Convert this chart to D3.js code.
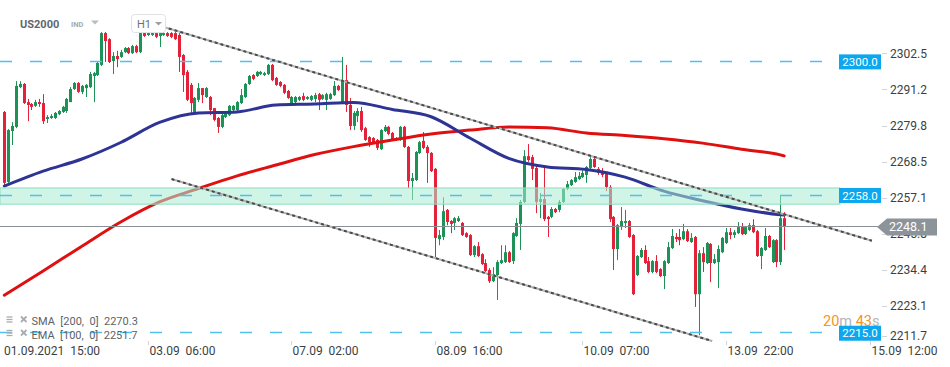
<!DOCTYPE html>
<html><head><meta charset="utf-8">
<script src="https://cdn.jsdelivr.net/npm/d3@7"></script>
<style>
body{margin:0;background:#fff;}
svg{display:block;font-family:Roboto,"Open Sans",sans-serif;}
text{white-space:pre;}
</style></head><body>
<svg id="c" width="950" height="367"></svg>
<script>
// ---- DATA (US2000, H1) ----
const opens = [
2284.1,2262.1,2278.1,2279.4,2291.9,2292.9,2287.2,2286.6,2286.0,2287.2,
2286.9,2281.9,2282.2,2282.2,2283.4,2284.1,2284.4,2287.2,2291.3,2293.2,
2290.4,2291.6,2291.9,2295.4,2295.7,2298.9,2308.9,2307.0,2300.1,2301.7,
2301.4,2302.9,2304.2,2302.6,2304.8,2302.9,2308.9,2308.3,2308.3,2308.9,
2308.0,2308.3,2308.9,2308.9,2308.9,2308.3,2302.0,2296.7,2292.6,2284.1,
2287.9,2291.6,2288.8,2288.8,2285.3,2282.2,2279.4,2282.5,2283.1,2284.7,
2284.7,2286.9,2288.8,2292.9,2295.7,2295.4,2296.0,2295.7,2296.0,2298.9,
2294.8,2293.5,2292.6,2290.7,2286.9,2287.2,2287.9,2289.1,2288.2,2287.9,
2288.2,2289.7,2288.2,2287.9,2288.2,2289.4,2292.3,2287.2,2294.1,2286.3,
2279.7,2282.8,2284.4,2279.0,2276.2,2275.9,2275.3,2272.4,2278.1,2279.4,
2277.5,2275.3,2275.3,2279.4,2273.1,2262.4,2262.7,2271.2,2275.0,2273.1,
2271.2,2266.2,2244.1,2244.8,2253.3,2249.8,2249.2,2249.8,2249.2,2246.0,
2245.4,2239.1,2241.9,2239.4,2236.6,2234.4,2230.9,2232.8,2236.6,2236.9,
2240.0,2237.2,2245.1,2248.9,2255.8,2270.2,2269.9,2266.5,2255.8,2256.7,
2251.1,2251.1,2253.6,2253.3,2255.8,2259.9,2261.1,2262.1,2263.0,2263.6,
2264.3,2266.5,2269.3,2266.2,2265.2,2264.9,2260.5,2251.1,2241.0,2247.9,
2249.2,2249.8,2245.4,2232.8,2238.5,2240.7,2237.2,2233.8,2237.2,2234.7,
2232.5,2236.6,2241.3,2244.8,2244.8,2244.1,2246.6,2243.2,2244.8,2226.8,
2239.7,2236.6,2242.6,2236.6,2236.9,2240.0,2242.9,2246.3,2245.4,2246.0,
2247.9,2245.7,2247.0,2248.5,2246.6,2238.8,2240.7,2245.1,2236.9,2243.8,
2236.9,2250.7];
const highs = [
2284.4,2278.7,2280.9,2293.8,2293.8,2293.2,2288.2,2286.9,2287.9,2288.2,
2289.7,2283.1,2283.4,2284.1,2284.7,2286.0,2288.5,2291.9,2293.5,2293.5,
2292.6,2292.9,2296.7,2296.7,2299.8,2309.2,2309.2,2307.3,2302.9,2303.3,
2303.6,2304.5,2304.5,2305.2,2305.2,2309.2,2309.2,2309.2,2309.2,2309.2,
2309.2,2309.2,2309.2,2309.2,2309.2,2308.9,2302.3,2297.3,2293.2,2288.8,
2293.2,2291.6,2291.9,2289.1,2285.3,2282.5,2283.8,2284.1,2286.3,2286.3,
2287.5,2291.3,2293.2,2295.7,2296.0,2297.0,2297.0,2296.7,2299.2,2299.2,
2295.1,2293.8,2292.9,2291.0,2289.1,2289.1,2289.1,2290.1,2289.1,2289.4,
2290.1,2290.1,2289.7,2290.1,2290.1,2293.8,2292.6,2301.4,2298.9,2288.5,
2284.4,2285.3,2285.7,2279.4,2276.5,2276.2,2275.6,2278.7,2280.0,2279.7,
2277.8,2276.2,2279.7,2279.7,2273.4,2264.9,2271.8,2275.0,2277.8,2273.7,
2271.5,2266.5,2247.0,2257.3,2253.6,2250.1,2251.1,2251.4,2249.5,2246.3,
2245.7,2242.2,2243.2,2239.7,2237.8,2235.0,2235.3,2237.5,2242.2,2242.2,
2240.4,2246.3,2250.7,2256.4,2272.1,2274.0,2270.6,2267.1,2258.6,2266.5,
2251.4,2254.2,2253.9,2256.4,2260.2,2262.4,2263.0,2265.2,2265.2,2265.8,
2267.1,2269.9,2269.6,2266.8,2266.5,2265.2,2261.1,2251.4,2248.9,2254.2,
2253.3,2250.1,2245.7,2239.1,2241.3,2242.2,2238.5,2237.5,2239.1,2235.0,
2237.5,2243.2,2247.3,2246.0,2247.3,2248.9,2247.3,2246.0,2245.1,2240.7,
2241.6,2243.2,2242.9,2239.4,2242.2,2244.8,2247.6,2247.6,2247.0,2249.5,
2249.2,2248.2,2249.2,2250.4,2247.0,2241.6,2247.6,2245.4,2244.1,2244.1,
2258.0,2252.6];
const lows = [
2261.1,2261.8,2273.7,2279.0,2291.6,2286.6,2281.2,2284.7,2285.7,2285.7,
2280.3,2280.6,2281.9,2281.9,2283.1,2283.8,2283.8,2287.2,2291.0,2290.1,
2289.7,2288.8,2291.6,2287.2,2295.4,2298.5,2299.8,2299.5,2296.0,2298.2,
2301.1,2302.6,2302.3,2302.3,2302.6,2302.6,2307.7,2308.0,2308.0,2307.3,
2304.5,2308.0,2307.7,2307.3,2306.7,2296.7,2290.4,2287.5,2283.8,2283.8,
2287.2,2286.9,2288.5,2283.1,2281.2,2277.5,2279.0,2282.2,2282.8,2284.4,
2284.4,2286.6,2288.5,2292.6,2294.1,2295.1,2295.7,2295.4,2295.7,2293.8,
2292.3,2291.9,2289.7,2288.2,2286.6,2286.9,2287.5,2287.5,2287.9,2287.5,
2287.2,2284.7,2287.9,2284.7,2287.9,2289.1,2290.7,2286.9,2284.1,2278.4,
2278.4,2280.9,2277.8,2275.0,2273.1,2274.3,2272.1,2272.1,2277.8,2276.8,
2275.0,2275.0,2275.0,2272.8,2260.2,2256.4,2262.4,2270.9,2272.4,2261.8,
2265.2,2238.2,2242.2,2243.8,2248.5,2246.0,2247.0,2249.5,2245.1,2244.5,
2238.8,2238.5,2238.5,2236.0,2233.8,2230.3,2230.6,2225.0,2236.3,2236.6,
2236.6,2236.3,2244.8,2240.7,2255.5,2268.4,2262.7,2252.3,2250.7,2249.8,
2244.8,2250.7,2252.3,2252.6,2255.5,2259.5,2260.8,2261.8,2262.7,2263.3,
2261.8,2266.2,2266.5,2264.3,2263.6,2259.2,2249.5,2234.4,2237.5,2247.0,
2247.6,2244.5,2226.5,2232.5,2238.2,2236.3,2233.4,2233.4,2233.4,2232.2,
2228.4,2236.3,2241.0,2243.2,2242.2,2243.8,2243.2,2242.9,2222.8,2213.9,
2233.8,2236.3,2230.6,2236.3,2228.7,2239.7,2242.6,2244.1,2244.5,2245.7,
2245.4,2245.4,2246.6,2246.0,2238.5,2234.7,2240.4,2241.3,2236.6,2235.3,
2236.0,2240.7];
const closes = [
2261.8,2278.4,2279.7,2292.3,2292.9,2286.9,2286.3,2285.7,2287.2,2286.6,
2281.2,2282.5,2282.8,2283.8,2284.4,2285.7,2288.2,2291.3,2293.2,2290.4,
2292.3,2292.6,2296.0,2296.3,2299.5,2308.9,2306.4,2299.8,2301.7,2300.7,
2302.9,2304.2,2302.6,2304.8,2302.9,2308.9,2308.0,2308.9,2308.9,2307.7,
2308.9,2308.9,2308.0,2307.7,2307.0,2301.4,2295.7,2287.9,2286.9,2288.5,
2291.6,2289.4,2291.6,2284.7,2281.6,2279.4,2283.1,2283.8,2286.0,2286.0,
2287.2,2289.4,2292.9,2295.4,2294.5,2296.7,2296.7,2296.3,2298.9,2294.1,
2292.6,2292.3,2290.1,2288.5,2288.8,2288.8,2288.8,2287.9,2288.8,2289.1,
2289.4,2287.9,2289.4,2289.7,2289.7,2292.3,2291.0,2294.1,2286.3,2279.7,
2283.8,2284.4,2278.4,2275.3,2274.6,2274.6,2272.8,2278.4,2279.4,2277.2,
2275.3,2275.9,2279.4,2273.1,2262.4,2263.3,2271.5,2274.6,2272.8,2271.2,
2265.5,2244.5,2245.4,2252.9,2249.5,2248.9,2250.7,2250.7,2245.4,2244.8,
2239.1,2241.9,2238.8,2236.3,2234.1,2230.9,2233.1,2236.9,2237.5,2240.0,
2236.9,2246.0,2249.2,2255.8,2270.2,2269.0,2266.2,2255.8,2256.7,2250.4,
2250.4,2253.6,2252.6,2255.8,2259.9,2261.4,2262.7,2263.6,2264.0,2264.9,
2266.8,2269.3,2266.8,2264.9,2264.3,2260.5,2250.4,2241.0,2248.5,2249.8,
2249.8,2244.8,2226.8,2238.8,2240.7,2236.6,2233.8,2237.2,2233.8,2232.5,
2237.2,2241.6,2245.1,2244.1,2243.8,2246.6,2243.5,2244.5,2226.8,2239.7,
2236.9,2242.9,2236.6,2237.8,2241.0,2244.5,2246.3,2245.4,2246.3,2247.9,
2245.7,2247.9,2248.5,2246.3,2238.8,2241.3,2245.1,2241.6,2243.8,2236.9,
2250.7,2248.1];

const maIndex   = [0,10,20,30,40,50,60,70,80,90,100,110,120,130,140,150,160,170,180,190,200,201];
const emaValues = [2260.8,2265.5,2269.3,2274.5,2280.8,2283.8,2284.1,2286.3,2286.6,2287.1,2284.9,2282.6,2275.9,2269.5,2266.8,2266.0,2263.6,2259.2,2256.2,2253.6,2251.8,2251.7];
const smaValues = [2226.5,2234.1,2241.9,2249.5,2255.8,2260.0,2264.0,2267.4,2270.7,2273.2,2275.3,2277.2,2278.4,2279.4,2279.1,2277.5,2276.7,2275.7,2274.3,2272.4,2270.6,2270.3];

const yTickValues = [2302.5,2291.2,2279.8,2268.5,2257.1,2245.8,2234.4,2223.1,2211.7];
const xTickIndex  = [0,37,74,111,149,186,223];
const xTickLabels = ["01.09.2021  15:00","03.09  06:00","07.09  02:00","08.09  16:00","10.09  07:00","13.09  22:00","15.09  12:00"];
const levelValues = [2300.0, 2258.0, 2215.0];
const zoneRange   = [2255.1, 2260.2];
const lastPrice   = 2248.1;
const upperTrend  = [[40.9,2310.9],[223.6,2243.6]];
const lowerTrend  = [[43.1,2263.0],[182.4,2212.1]];
const smaLabel = "SMA  [200,  0]  2270.3";
const emaLabel = "EMA  [100,  0]  2251.7";

// ---- CHART ----
const svg = d3.select("#c");
const x = d3.scaleLinear().domain([0, 201]).range([4.3, 784.2]);
const y = d3.scaleLinear().domain([2319.3, 2212.4]).range([0, 340]);
const up = "#1d9256", dn = "#e3223a";

const plot = svg.append("g");
plot.append("defs").append("clipPath").attr("id","pc")
  .append("rect").attr("x",0).attr("y",0).attr("width",880).attr("height",341);
const pg = plot.append("g").attr("clip-path","url(#pc)");

const idx = d3.range(opens.length);
const cg = pg.append("g");
cg.selectAll("line").data(idx).join("line")
  .attr("x1", i => Math.round(x(i)) + 0.5).attr("x2", i => Math.round(x(i)) + 0.5)
  .attr("y1", i => y(highs[i])).attr("y2", i => y(lows[i]))
  .attr("stroke", i => closes[i] >= opens[i] ? up : dn).attr("stroke-width", 1);
cg.selectAll("rect").data(idx).join("rect")
  .attr("x", i => Math.round(x(i)) - 1).attr("width", 3)
  .attr("y", i => y(Math.max(opens[i], closes[i])))
  .attr("height", i => Math.max(1, Math.abs(y(opens[i]) - y(closes[i]))))
  .attr("fill", i => closes[i] >= opens[i] ? up : dn);

const maLine = vals => d3.line().curve(d3.curveMonotoneX)
  .x((d, k) => x(maIndex[k])).y(d => y(d))(vals);
pg.append("path").attr("d", maLine(smaValues)).attr("fill","none")
  .attr("stroke","#e01010").attr("stroke-width",3).attr("stroke-linecap","round");
pg.append("path").attr("d", maLine(emaValues)).attr("fill","none")
  .attr("stroke","#2d3494").attr("stroke-width",3).attr("stroke-linecap","round");

// zone
svg.append("rect").attr("x",0).attr("width",840)
  .attr("y", y(zoneRange[1])).attr("height", y(zoneRange[0]) - y(zoneRange[1]))
  .attr("fill","rgb(169,237,210)").attr("fill-opacity",0.55)
  .attr("stroke","#8fdcbf").attr("stroke-width",1);

// last price line
svg.append("line").attr("x1",0).attr("x2",878)
  .attr("y1", Math.round(y(lastPrice)) + 0.5).attr("y2", Math.round(y(lastPrice)) + 0.5)
  .attr("stroke","#8a9095").attr("stroke-width",1);

// dashed level lines
levelValues.forEach(v => {
  svg.append("line").attr("x1",0).attr("x2",838)
    .attr("y1", Math.round(y(v)) + 0.5).attr("y2", Math.round(y(v)) + 0.5)
    .attr("stroke","#4fc0f0").attr("stroke-width",1.4).attr("stroke-dasharray","12,18");
});

// trend lines
[upperTrend, lowerTrend].forEach(t => {
  const g = svg.append("g");
  g.append("line").attr("x1", x(t[0][0])).attr("y1", y(t[0][1]))
    .attr("x2", x(t[1][0])).attr("y2", y(t[1][1]))
    .attr("stroke","#b4b4b4").attr("stroke-width",2);
  g.append("line").attr("x1", x(t[0][0])).attr("y1", y(t[0][1]))
    .attr("x2", x(t[1][0])).attr("y2", y(t[1][1]))
    .attr("stroke","#4a4a4a").attr("stroke-width",2).attr("stroke-dasharray","3,3");
});

// y axis
const ya = svg.append("g");
yTickValues.forEach(v => {
  const yy = Math.min(y(v), 335.5);
  ya.append("line").attr("x1",882).attr("x2",887).attr("y1",Math.round(yy)+0.5).attr("y2",Math.round(yy)+0.5)
    .attr("stroke","#d0d4d8");
  ya.append("text").attr("x",890).attr("y",yy).attr("dy","0.35em")
    .attr("font-size",12).attr("fill","#3a3f44").text(v.toFixed(1));
});

// countdown
{
  const t = svg.append("text").attr("x",823).attr("y",326).attr("font-size",14.5);
  t.append("tspan").attr("fill","#f7931e").text("20");
  t.append("tspan").attr("fill","#b0b6bb").text("m ");
  t.append("tspan").attr("fill","#f7931e").text("43");
  t.append("tspan").attr("fill","#b0b6bb").text("s");
}

// level labels
levelValues.forEach(v => {
  const yy = y(v) + (v < 2230 ? 1.5 : 0.5);
  svg.append("rect").attr("x",839).attr("y",yy-7.5).attr("width",42).attr("height",15).attr("fill","#0ca7ee");
  svg.append("text").attr("x",860).attr("y",yy).attr("dy","0.36em").attr("text-anchor","middle")
    .attr("font-size",11.5).attr("fill","#fff").text(v.toFixed(1));
});

// last price label
{
  const yy = y(lastPrice) + 0.5;
  svg.append("path").attr("d", `M877,${yy} L887,${yy-8.5} L937,${yy-8.5} L937,${yy+8.5} L887,${yy+8.5} Z`)
    .attr("fill","#8d9499");
  svg.append("text").attr("x",889).attr("y",yy).attr("dy","0.36em")
    .attr("font-size",12.5).attr("fill","#fff").text(lastPrice.toFixed(1));
}

// x axis
xTickIndex.forEach((i, k) => {
  const xx = Math.round(x(i)) + 0.5;
  if (k > 0) svg.append("line").attr("x1",xx).attr("x2",xx).attr("y1",341).attr("y2",345).attr("stroke","#d0d4d8");
  svg.append("text").attr("x", k === 0 ? 4 : xx + 1).attr("y",355)
    .attr("font-size",12).attr("fill","#3a3f44").text(xTickLabels[k]);
});

// header
svg.append("text").attr("x",20).attr("y",27.5).attr("font-size",11).attr("font-weight","bold").attr("fill","#5f676d").text("US2000");
svg.append("text").attr("x",71).attr("y",26.5).attr("font-size",7.5).attr("font-weight","bold").attr("fill","#a3abb2").text("IND");
svg.append("path").attr("d","M91,20.5 L99,20.5 L95,24.5 Z").attr("fill","#b8bdc2");
svg.append("rect").attr("x",131.5).attr("y",14.5).attr("width",34).attr("height",18).attr("rx",3)
  .attr("fill","#fff").attr("stroke","#dfe3e6");
svg.append("text").attr("x",137).attr("y",27.5).attr("font-size",11).attr("fill","#6a7278").text("H1");
svg.append("path").attr("d","M155,22 L162,22 L158.5,25.5 Z").attr("fill","#9aa0a5");

// legend
[[smaLabel, 325], [emaLabel, 338.5]].forEach(([lbl, by]) => {
  const g = svg.append("g").attr("stroke","#a7adb2").attr("stroke-width",1.3);
  [0, 2.5, 5].forEach(o => g.append("line").attr("x1",6.5).attr("x2",12.5).attr("y1",by-8+o).attr("y2",by-8+o));
  g.append("line").attr("x1",21).attr("x2",26.5).attr("y1",by-8.5).attr("y2",by-3).attr("stroke-width",1.8);
  g.append("line").attr("x1",26.5).attr("x2",21).attr("y1",by-8.5).attr("y2",by-3).attr("stroke-width",1.8);
  svg.append("text").attr("x",31.5).attr("y",by).attr("font-size",11).attr("fill","#5b6368").text(lbl);
});
</script>
</body></html>
